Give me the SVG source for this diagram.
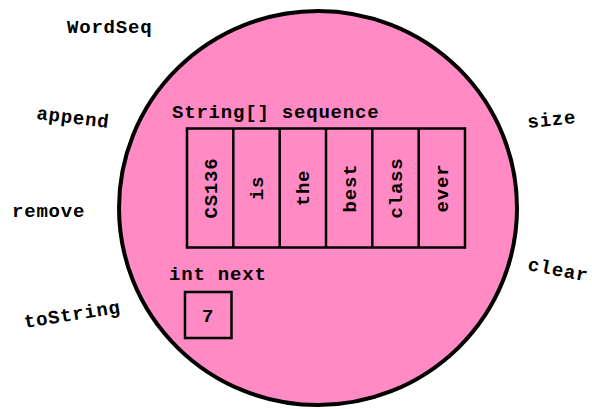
<svg xmlns="http://www.w3.org/2000/svg" width="592" height="409" viewBox="0 0 592 409">
  <style>
    .t { font-family: "Liberation Mono", "Courier New", monospace; font-weight: bold; font-size: 19px; letter-spacing: 0.8px; fill: #000; }
    .cell { fill: none; stroke: #000; stroke-width: 2.5; }
    .v { text-anchor: middle; }
  </style>
  <rect width="592" height="409" fill="#fff"/>

  <!-- object body -->
  <g id="wordseq">
    <ellipse cx="318" cy="208" rx="199" ry="197" fill="#ff8ac4" stroke="#000" stroke-width="4"/>
    <text class="t" x="67" y="33">WordSeq</text>
  </g>

  <!-- methods around the object -->
  <g id="methods">
    <text class="t" transform="translate(36,119) rotate(7)">append</text>
    <text class="t" x="12" y="217">remove</text>
    <text class="t" transform="translate(25,328) rotate(-9)">toString</text>
    <text class="t" transform="translate(528,128) rotate(-6)">size</text>
    <text class="t" transform="translate(527,270) rotate(11)">clear</text>
  </g>

  <!-- String[] sequence field -->
  <g id="sequence">
    <text class="t" x="172" y="118">String[] sequence</text>
    <rect class="cell" x="187" y="128.5" width="278" height="119"/>
    <line class="cell" x1="233.3" y1="128.5" x2="233.3" y2="247.5"/>
    <line class="cell" x1="279.7" y1="128.5" x2="279.7" y2="247.5"/>
    <line class="cell" x1="326" y1="128.5" x2="326" y2="247.5"/>
    <line class="cell" x1="372.3" y1="128.5" x2="372.3" y2="247.5"/>
    <line class="cell" x1="418.7" y1="128.5" x2="418.7" y2="247.5"/>
    <text class="t v" transform="translate(216.5,188) rotate(-90)">CS136</text>
    <text class="t v" transform="translate(263,188) rotate(-90)">is</text>
    <text class="t v" transform="translate(309,188) rotate(-90)">the</text>
    <text class="t v" transform="translate(355.5,188) rotate(-90)">best</text>
    <text class="t v" transform="translate(402,188) rotate(-90)">class</text>
    <text class="t v" transform="translate(448,188) rotate(-90)">ever</text>
  </g>

  <!-- int next field -->
  <g id="next">
    <text class="t" x="169" y="280">int next</text>
    <rect class="cell" x="185" y="292" width="46.5" height="46"/>
    <text class="t v" x="208" y="322">7</text>
  </g>
</svg>
